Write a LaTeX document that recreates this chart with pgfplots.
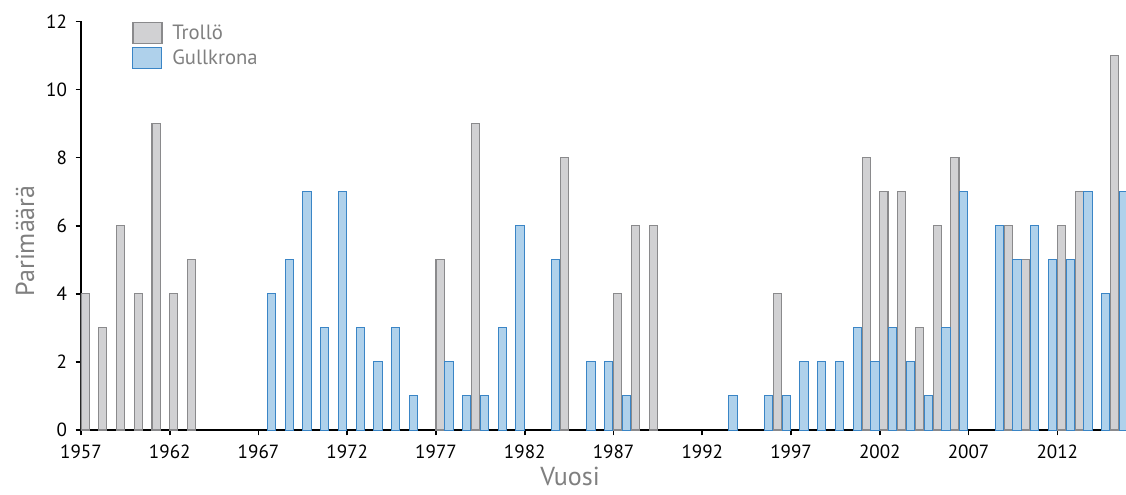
\documentclass[border=0pt]{standalone}
\usepackage{pgfplots}
\pgfplotsset{compat=1.18}
\usepackage{pgfplotstable}
\usepackage{fontspec}
\setmainfont{PT Sans}

\definecolor{trollofill}{HTML}{D1D1D3}
\definecolor{trolloline}{HTML}{8A8A8C}
\definecolor{gullfill}{HTML}{AFD1EB}
\definecolor{gullline}{HTML}{3A85C6}
\definecolor{labelgray}{HTML}{7F7F7F}

% Pair counts per year
\pgfplotstableread{
year count
1957 4
1958 3
1959 6
1960 4
1961 9
1962 4
1963 5
1977 5
1979 9
1984 8
1987 4
1988 6
1989 6
1996 4
2001 8
2002 7
2003 7
2004 3
2005 6
2006 8
2009 6
2010 5
2012 6
2013 7
2015 11
}\trollo

\pgfplotstableread{
year count
1967 4
1968 5
1969 7
1970 3
1971 7
1972 3
1973 2
1974 3
1975 1
1977 2
1978 1
1979 1
1980 3
1981 6
1983 5
1985 2
1986 2
1987 1
1993 1
1995 1
1996 1
1997 2
1998 2
1999 2
2000 3
2001 2
2002 3
2003 2
2004 1
2005 3
2006 7
2008 6
2009 5
2010 6
2011 5
2012 5
2013 7
2014 4
2015 7
}\gullkrona

\newcommand{\tickfont}{\fontsize{14.3}{17}\selectfont}
\newcommand{\legendfont}{\fontsize{15.5}{18}\selectfont}
\newcommand{\labelfont}{\fontsize{19.5}{23}\selectfont}

\begin{document}
\begin{tikzpicture}
\begin{axis}[
  scale only axis,
  width=783.75pt, height=306.4pt,
  xmin=1957, xmax=2015.87,
  ymin=0, ymax=12,
  ytick={0,2,...,12},
  xtick={1957,1962,...,2012},
  axis x line*=bottom,
  axis y line*=left,
  axis line style={black, line width=1.6pt},
  tick style={black, line width=1.2pt},
  tick align=outside,
  major tick length=4pt,
  /pgf/number format/1000 sep={},
  /pgf/number format/assume math mode=true,
  ticklabel style={font=\tickfont, text=black},
  xticklabel style={yshift=-4pt},
  yticklabel style={xshift=-3pt},
  xlabel={Vuosi},
  ylabel={Parimäärä},
  label style={font=\labelfont, text=labelgray},
  xlabel style={at={(axis description cs:0.468,-0.113)}, anchor=center},
  ylabel style={at={(axis description cs:-0.0536,0.463)}, anchor=center, rotate=0},
  ybar,
  bar width=0.46,
  legend cell align=left,
  legend style={draw=none, fill=none, at={(axis description cs:0.049,1.0)},
    anchor=north west, font=\legendfont, text=labelgray, inner sep=0pt,
    row sep=2.5pt,
    nodes={inner sep=1pt}},
  legend image code/.code={%
    \draw[#1] (0pt,-7.9pt) rectangle (21.75pt,7.9pt);
    \path[draw=none, fill=none] (0pt,0pt) -- (28.5pt,0pt);},
]
\addplot[fill=trollofill, draw=trolloline, line width=0.8pt, bar shift=0.23]
  table[x=year, y=count] {\trollo};
\addlegendentry{Trollö}
\addplot[fill=gullfill, draw=gullline, line width=0.75pt, bar shift=0.73]
  table[x=year, y=count] {\gullkrona};
\addlegendentry{Gullkrona}
\end{axis}
\pgfresetboundingbox
\useasboundingbox ([xshift=-60.75pt, yshift=-48pt]current axis.south west)
  rectangle ([yshift=16.1pt]current axis.north east);
\end{tikzpicture}
\end{document}
